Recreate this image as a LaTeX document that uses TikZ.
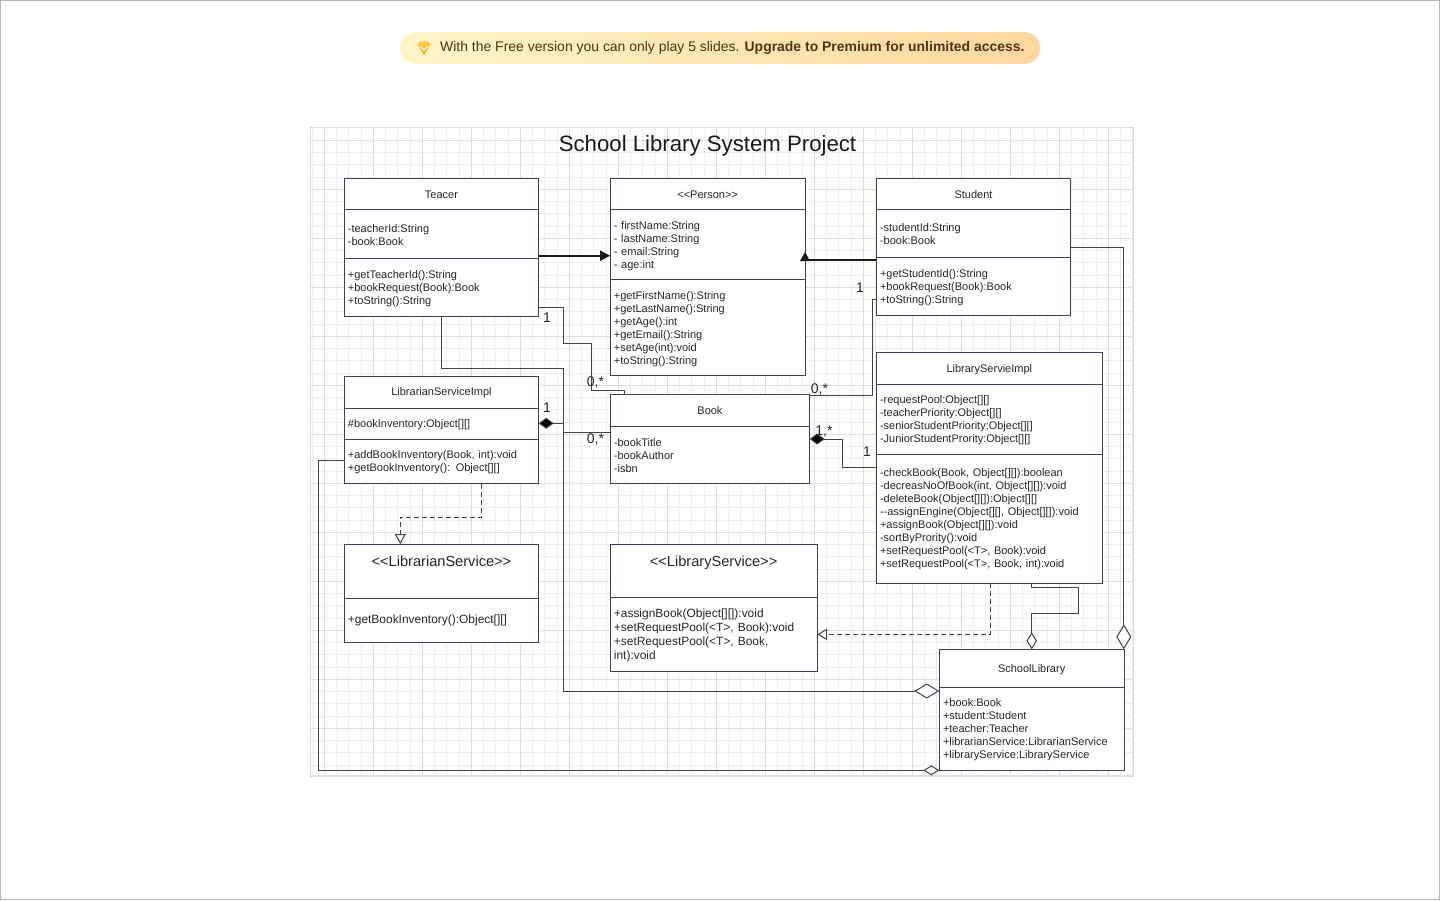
\documentclass[tikz,border=0pt]{standalone}
\usepackage{fontspec}
\setmainfont{Liberation Sans}
\usetikzlibrary{arrows.meta,calc}
\definecolor{boxline}{HTML}{3A4168}
\definecolor{connc}{HTML}{444444}
\definecolor{gridminor}{HTML}{EFEFEF}
\definecolor{gridmajor}{HTML}{DEDEDE}
\definecolor{bannerL}{HTML}{FFF5C9}
\definecolor{bannerR}{HTML}{FFD79E}
\definecolor{bannertext}{HTML}{4F3410}
\definecolor{gemtop}{HTML}{FFCF4A}
\definecolor{gembot}{HTML}{FFA51E}
\newcommand{\tstrut}{\vrule width 0pt height 10pt depth 1pt\relax}
\tikzset{
  x=1pt,y=-1pt,
  box/.style={draw=boxline,line width=1pt,fill=white,inner sep=0pt,outer sep=0pt,anchor=north west,font=\fontsize{11}{13}\selectfont,text=black!85,execute at begin node=\tstrut,execute at end node=\tstrut},
  titlebox/.style={box,align=center},
  listbox/.style={box,align=left,inner xsep=3.7pt},
  bigtitle/.style={box,font=\fontsize{14.6}{17}\selectfont},
  bigmeth/.style={listbox,font=\fontsize{11.95}{14}\selectfont},
  conn/.style={draw=connc,line width=1pt,line join=miter},
  heavy/.style={draw=black!90,line width=1.8pt},
  mult/.style={font=\fontsize{14}{16}\selectfont,text=black!85,inner sep=0pt},
  fillhead/.style={-{Triangle[length=10pt,width=10pt,fill=black!90]}},
  odiam/.style n args={2}{-{Diamond[length=#1pt,width=#2pt,open,fill=white]}},
  fdiam/.style={-{Diamond[length=15pt,width=11pt,fill=black]}},
  otri/.style={-{Triangle[length=10pt,width=11pt,open,fill=white]}},
  dashline/.style={conn,dash pattern=on 5pt off 3pt},
}
\begin{document}
\begin{tikzpicture}
\useasboundingbox (0,0) rectangle (1440,900);
\fill[white] (0,0) rectangle (1440,900);
\draw[black!28,line width=1pt] (0.5,0.5) rectangle (1439.5,899.5);
% banner
\shade[left color=bannerL,right color=bannerR,rounded corners=16pt] (400,32) rectangle (1040,64);
\shade[top color=gemtop,bottom color=gembot] (417.5,44.5) -- (420.5,41) -- (427.5,41) -- (430.5,44.5) -- (424,55) -- cycle;
\draw[white!85!yellow,line width=1.3pt] (420.5,46.5) -- (424,50) -- (427.5,46.5);
\node[anchor=west,inner sep=0pt,text=bannertext,font=\fontsize{13.95}{16}\selectfont] (bannertxt) at (440,48.2) {With the Free version you can only play 5 slides. \textbf{Upgrade to Premium for unlimited access.}};
% canvas
\fill[white] (310.3,127.8) rectangle (1133.5,776);
\begin{scope}
\clip (310.3,127.8) rectangle (1133.5,776);
\foreach \i in {0,...,67} {
  \pgfmathsetmacro\gx{312+12.25*\i}
  \draw[gridminor,line width=0.9pt] (\gx,127) -- (\gx,776);
}
\foreach \i in {0,...,53} {
  \pgfmathsetmacro\gy{140.3+12.25*\i}
  \draw[gridminor,line width=0.9pt] (310,\gy) -- (1134,\gy);
}
\foreach \i in {0,...,16} {
  \pgfmathsetmacro\gx{324.3+49*\i}
  \draw[gridmajor,line width=0.9pt] (\gx,127) -- (\gx,776);
}
\foreach \i in {0,...,13} {
  \pgfmathsetmacro\gy{140.3+49*\i}
  \draw[gridmajor,line width=0.9pt] (310,\gy) -- (1134,\gy);
}
\end{scope}
\draw[gridmajor,line width=1.2pt] (310.3,127.8) rectangle (1133.5,776);
\node[inner sep=0pt,text=black!90,font=\fontsize{22.2}{26}\selectfont] (title) at (707.5,145.3) {School Library System Project};
% Teacer
\node[titlebox,minimum width=194.5pt,minimum height=31.5pt] (tT) at (344.2,178.3) {Teacer};
\node[listbox,text width=187.1pt,minimum height=49pt] (tA) at (344.2,209.8) {-teacherId:String\\-book:Book};
\node[listbox,text width=187.1pt,minimum height=57.5pt] (tM) at (344.2,258.8) {+getTeacherId():String\\+bookRequest(Book):Book\\+toString():String};
% Person
\node[titlebox,minimum width=194.8pt,minimum height=31.5pt] (pT) at (610.2,178.3) {<{}<Person>{}>};
\node[listbox,text width=187.4pt,minimum height=70pt] (pA) at (610.2,209.8) {- firstName:String\\- lastName:String\\- email:String\\- age:int};
\node[listbox,text width=187.4pt,minimum height=96pt] (pM) at (610.2,279.8) {+getFirstName():String\\+getLastName():String\\+getAge():int\\+getEmail():String\\+setAge(int):void\\+toString():String};
% Student
\node[titlebox,minimum width=194.5pt,minimum height=31.5pt] (sT) at (876.3,178.3) {Student};
\node[listbox,text width=187.1pt,minimum height=48pt] (sA) at (876.3,209.8) {-studentId:String\\-book:Book};
\node[listbox,text width=187.1pt,minimum height=57.5pt] (sM) at (876.3,257.8) {+getStudentId():String\\+bookRequest(Book):Book\\+toString():String};
% LibraryServieImpl
\node[titlebox,minimum width=226pt,minimum height=31.5pt] (lT) at (876.3,352.5) {LibraryServieImpl};
\node[listbox,text width=218.6pt,minimum height=70pt] (lA) at (876.3,384) {-requestPool:Object[][]\\-teacherPriority:Object[][]\\-seniorStudentPriority:Object[][]\\-JuniorStudentPrority:Object[][]};
\node[listbox,text width=218.6pt,minimum height=129pt] (lM) at (876.3,454) {-checkBook(Book, Object[][]):boolean\\-decreasNoOfBook(int, Object[][]):void\\-deleteBook(Object[][]):Object[][]\\-{}-assignEngine(Object[][], Object[][]):void\\+assignBook(Object[][]):void\\-sortByPrority():void\\+setRequestPool(<T>, Book):void\\+setRequestPool(<T>, Book, int):void};
% LibrarianServiceImpl
\node[titlebox,minimum width=194.5pt,minimum height=32pt] (aT) at (344.2,376) {LibrarianServiceImpl};
\node[listbox,text width=187.1pt,minimum height=31.5pt] (aA) at (344.2,408) {\#bookInventory:Object[][]};
\node[listbox,text width=187.1pt,minimum height=44pt] (aM) at (344.2,439.5) {+addBookInventory(Book, int):void\\+getBookInventory(): Object[][]};
% Book
\node[titlebox,minimum width=199.5pt,minimum height=31.5pt] (bT) at (610.2,394.7) {Book};
\node[listbox,text width=192.1pt,minimum height=57.3pt] (bA) at (610.2,426.2) {-bookTitle\\-bookAuthor\\-isbn};
% LibrarianService
\node[bigtitle,minimum width=194.5pt,minimum height=54pt] (cT) at (344.2,544) {\raisebox{9pt}[0pt][0pt]{<{}<LibrarianService>{}>}};
\node[bigmeth,text width=187.1pt,minimum height=44pt] (cM) at (344.2,598) {+getBookInventory():Object[][]};
% LibraryService
\node[bigtitle,minimum width=206.8pt,minimum height=53.5pt] (dT) at (610.2,544) {\raisebox{9pt}[0pt][0pt]{<{}<LibraryService>{}>}};
\node[bigmeth,text width=199.4pt,minimum height=73.5pt] (dM) at (610.2,597.5) {+assignBook(Object[][]):void\\+setRequestPool(<T>, Book):void\\+setRequestPool(<T>, Book,\\int):void};
% SchoolLibrary
\node[titlebox,minimum width=184.7pt,minimum height=37.7pt] (eT) at (939.3,649.3) {SchoolLibrary};
\node[listbox,text width=177.3pt,minimum height=83pt] (eA) at (939.3,687) {+book:Book\\+student:Student\\+teacher:Teacher\\+librarianService:LibrarianService\\+libraryService:LibraryService};
% connectors
\draw[heavy,fillhead] (tA.east |- 0,255.7) -- (pA.west |- 0,255.7);
\coordinate (sp) at (pA.east |- 0,260);
\draw[heavy] (sA.west |- sp) -- (sp);
\fill[black!90] ($(sp)+(-5,1)$) -- ($(sp)+(0,-8)$) -- ($(sp)+(5,1)$) -- cycle;
\draw[conn] (tM.east |- 0,307.7) -| (563.3,343.3) -| (591,390) -| ($(bT.north west)+(14,0)$);
\draw[conn,odiam={25}{15}] (441.8,0 |- tM.south) |- (563.5,368.7) |- (eT.west |- 0,691);
\draw[conn,fdiam] (563.5,432 -| bT.west) -| (563.5,423.3) -- (aA.east |- 0,423.3);
\draw[dashline,otri] (481.7,0 |- aM.south) |- (400.3,517) -- (400.3,0 |- cT.north);
\draw[conn] (sM.west |- 0,299) -| (872.4,395.7) -- (bT.east |- 0,395.7);
\draw[conn,fdiam] (lM.west |- 0,467.3) -| (842.7,439) -- (bA.east |- 0,439);
\draw[conn,odiam={25}{15}] (sA.east |- 0,247.2) -| (1123.8,0 |- eT.north);
\draw[dashline,otri] (990.5,0 |- lM.south) |- (dM.east |- 0,634.4);
\draw[conn,odiam={17}{10.5}] (1031.7,0 |- lM.south) |- (1078.7,587.7) |- (1031.7,613) -- (1031.7,0 |- eT.north);
\draw[conn,odiam={16}{10}] (aM.west |- 0,460.7) -| (318,770.3) -- (eA.west |- 0,770.3);
% multiplicities
\node[mult] (m1) at (547,317.5) {1};
\node[mult] (m2) at (595.5,382.5) {0,*};
\node[mult] (m3) at (547,407.5) {1};
\node[mult] (m4) at (595.5,439.5) {0,*};
\node[mult] (m5) at (860,287.5) {1};
\node[mult] (m6) at (819.5,389.5) {0,*};
\node[mult] (m7) at (824,431.5) {1,*};
\node[mult] (m8) at (867,451.5) {1};
\end{tikzpicture}
\end{document}
